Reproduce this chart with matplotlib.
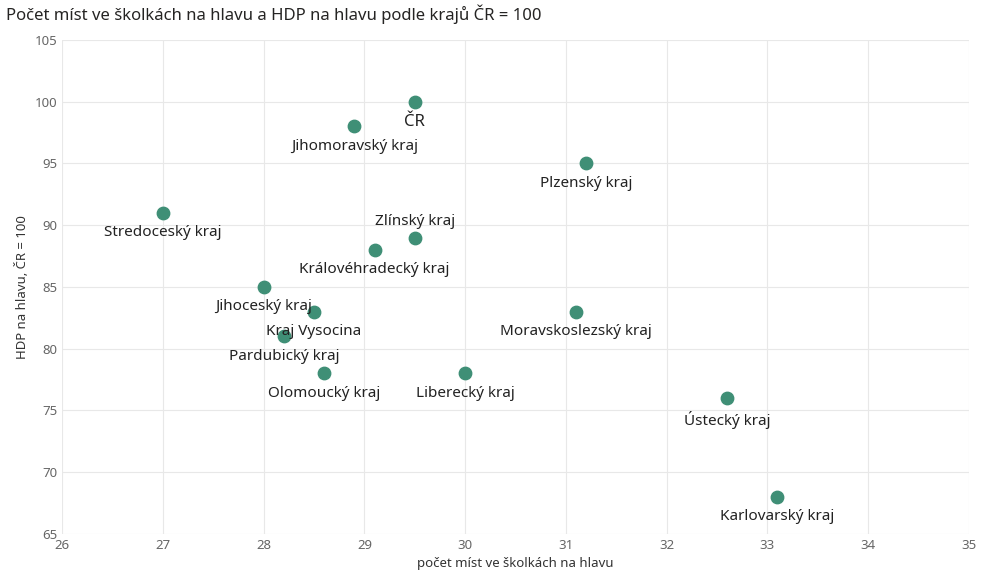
import matplotlib.pyplot as plt

kraje = ["ČR", "Jihomoravský kraj", "Plzenský kraj", "Stredoceský kraj", "Zlínský kraj",
         "Královéhradecký kraj", "Jihoceský kraj", "Kraj Vysocina", "Pardubický kraj",
         "Moravskoslezský kraj", "Olomoucký kraj", "Liberecký kraj", "Ústecký kraj",
         "Karlovarský kraj"]
mista = [29.5, 28.9, 31.2, 27.0, 29.5, 29.1, 28.0, 28.5, 28.2, 31.1, 28.6, 30.0, 32.6, 33.1]
hdp = [100, 98, 95, 91, 89, 88, 85, 83, 81, 83, 78, 78, 76, 68]

plt.rcParams['font.family'] = ['Noto Sans', 'DejaVu Sans']
fig, ax = plt.subplots(figsize=(10.05, 5.88), dpi=100)
fig.subplots_adjust(left=0.062, right=0.964, top=0.932, bottom=0.092)

ax.scatter(mista, hdp, s=80, color='#3f8f76', zorder=3)
for name, x, y in zip(kraje, mista, hdp):
    if name == "Zlínský kraj":
        ax.annotate(name, (x, y), xytext=(0, 6), textcoords='offset points',
                    ha='center', va='bottom', fontsize=11, color='#222222')
    else:
        fs = 12 if name == "ČR" else 11
        ax.annotate(name, (x, y), xytext=(0, -9), textcoords='offset points',
                    ha='center', va='top', fontsize=fs, color='#222222')

ax.set_xlim(26, 35)
ax.set_ylim(65, 105)
ax.set_xticks(range(26, 36))
ax.set_yticks(range(65, 106, 5))
ax.grid(True, color='#e8e8e8', linewidth=0.8)
ax.set_axisbelow(True)
for s in ax.spines.values():
    s.set_visible(False)
ax.tick_params(length=0, colors='#666666', labelsize=9.5)
ax.set_xlabel("počet míst ve školkách na hlavu", fontsize=9.5, color='#333333')
ax.set_ylabel("HDP na hlavu, ČR = 100", fontsize=9.5, color='#333333')
fig.text(0.006, 0.975, "Počet míst ve školkách na hlavu a HDP na hlavu podle krajů ČR = 100",
         fontsize=12, color='#252423', va='center')

fig.savefig("out.png")
